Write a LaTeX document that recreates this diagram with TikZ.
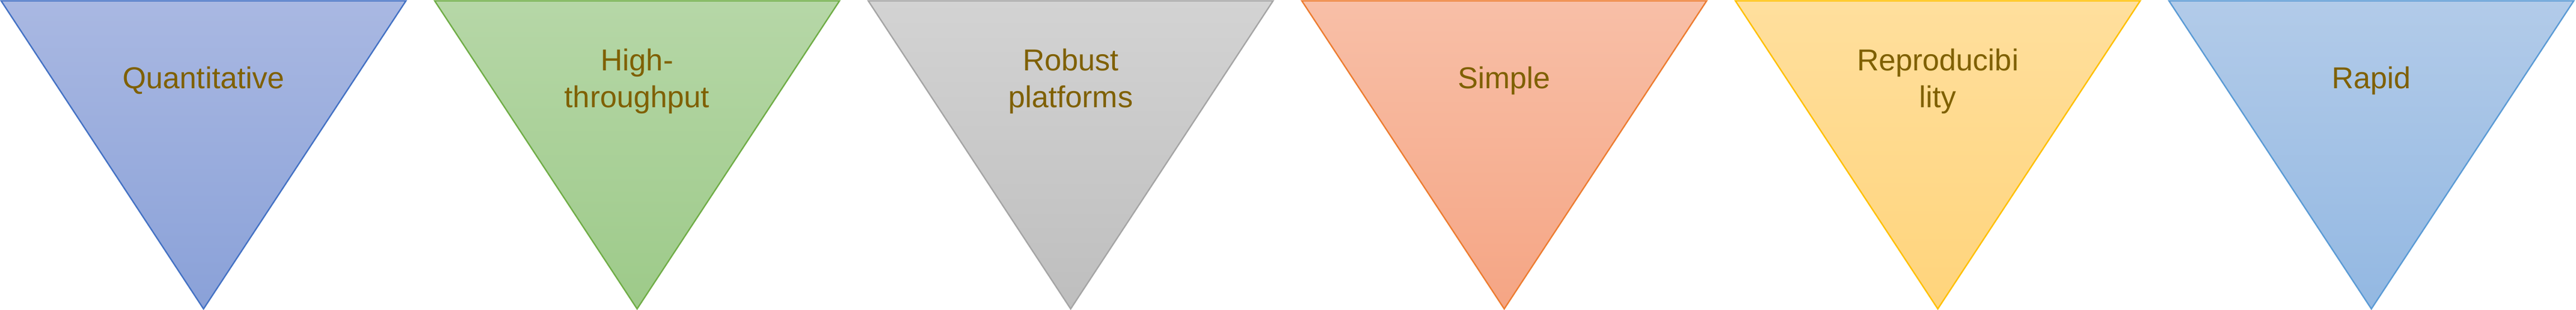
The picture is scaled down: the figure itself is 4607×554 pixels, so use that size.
\documentclass[tikz,border=0pt]{standalone}
\usepackage{fontspec}
\setmainfont{Liberation Sans}
\definecolor{lbltxt}{HTML}{7F6000}
\definecolor{bdA}{HTML}{4472C4}\definecolor{topA}{HTML}{A9B8E2}\definecolor{botA}{HTML}{8AA1D8}
\definecolor{bdB}{HTML}{70AD47}\definecolor{topB}{HTML}{B6D7A7}\definecolor{botB}{HTML}{9DCA89}
\definecolor{bdC}{HTML}{A5A5A5}\definecolor{topC}{HTML}{D3D3D3}\definecolor{botC}{HTML}{BEBEBE}
\definecolor{bdD}{HTML}{ED7D31}\definecolor{topD}{HTML}{F8BFA7}\definecolor{botD}{HTML}{F5A584}
\definecolor{bdE}{HTML}{FFC000}\definecolor{topE}{HTML}{FFDF9D}\definecolor{botE}{HTML}{FFD47B}
\definecolor{bdF}{HTML}{5B9BD5}\definecolor{topF}{HTML}{B2CBE9}\definecolor{botF}{HTML}{93B8E2}
\begin{document}
\begin{tikzpicture}[x=0.01cm,y=0.01cm,
  tri/.style={line width=0.7pt, line join=miter},
  lbl/.style={anchor=north, inner sep=0pt, align=center, text=lbltxt,
    font=\fontsize{15.4pt}{18.8pt}\selectfont}]
\useasboundingbox (0,0) rectangle (4607,554);
\foreach \i/\nm/\bc/\tc/\btc/\txt/\ny in {
  0/quant/bdA/topA/botA/{Quantitative}/435.9,
  1/high/bdB/topB/botB/{High-\\throughput}/467.9,
  2/robust/bdC/topC/botC/{Robust\\platforms}/467.9,
  3/simple/bdD/topD/botD/{Simple}/435.9,
  4/repro/bdE/topE/botE/{Reproducibi\\lity}/467.9,
  5/rapid/bdF/topF/botF/{Rapid}/435.9}{
  \pgfmathsetmacro\L{2+775.4*\i}
  \coordinate (\nm-tl) at (\L,552.5);
  \coordinate (\nm-tr) at (\L+724,552.5);
  \coordinate (\nm-b) at (\L+362,1);
  \path[tri, draw=\bc, top color=\tc, bottom color=\btc]
    (\nm-tl) -- (\nm-tr) -- (\nm-b) -- cycle;
  \node[lbl] (\nm) at (\L+362,\ny) {\txt};
}
\end{tikzpicture}
\end{document}
